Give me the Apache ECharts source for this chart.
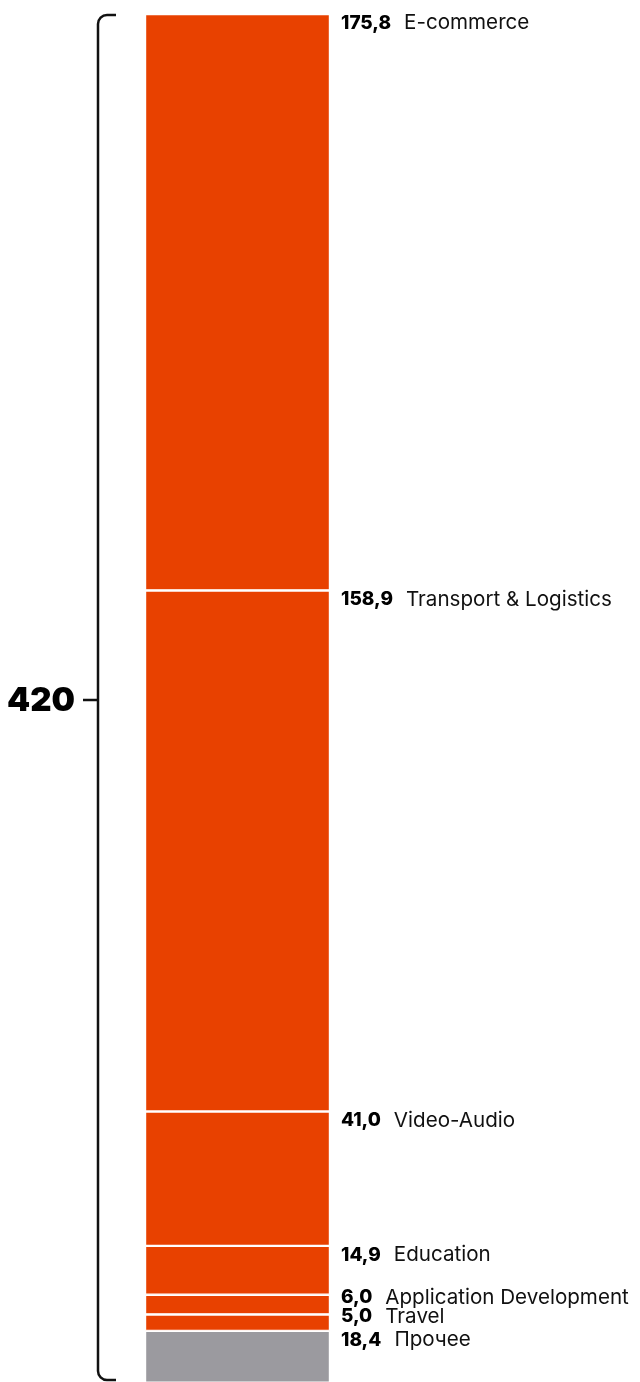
<!DOCTYPE html>
<html>
<head>
<meta charset="utf-8">
<script src="https://cdn.jsdelivr.net/npm/echarts@6/dist/echarts.min.js"></script>
<style>
  html, body { margin: 0; padding: 0; background: #ffffff; }
  #chart { width: 640px; height: 1382px; }
</style>
</head>
<body>
<div id="chart"></div>
<script>
// Segments from the bottom of the stack to the top
const categories = ['Прочее', 'Travel', 'Application Development', 'Education', 'Video-Audio', 'Transport & Logistics', 'E-commerce'];
const values = [18.4, 5.0, 6.0, 14.9, 41.0, 158.9, 175.8];
const kinds = ['other', 'main', 'main', 'main', 'main', 'main', 'main'];

const palette = { main: '#e84100', other: '#9b9a9f' };
// vertical nudge of each label below its segment's top edge (crowded ones sit higher)
const labelNudge = { 'Прочее': 9, 'Travel': 2, 'Application Development': 3 };

const total = values.reduce((a, b) => a + b, 0);
const fmt = v => v.toFixed(1).replace('.', ',');
const FONT = 'Inter, "Noto Sans", sans-serif';
// the stack runs a little past the lower page edge; the axis starts just above zero
const axisFloor = 2.8;

const chart = echarts.init(document.getElementById('chart'), null, { renderer: 'canvas' });

const series = categories.map((name, i) => ({
  type: 'bar',
  name: name,
  stack: 'total',
  data: [values[i]],
  barWidth: 185,
  clip: true,
  itemStyle: { color: palette[kinds[i]], borderColor: '#ffffff', borderWidth: 1.2 },
  emphasis: { disabled: true },
  label: {
    show: true,
    position: ['100%', 0],
    offset: [11, labelNudge[name] !== undefined ? labelNudge[name] : 9],
    align: 'left',
    verticalAlign: 'middle',
    formatter: () => '{v|' + fmt(values[i]) + '}{n|' + name + '}',
    rich: {
      v: { fontFamily: FONT, fontSize: 19, fontWeight: 800, color: '#000000' },
      n: { fontFamily: FONT, fontSize: 20.6, fontWeight: 400, color: '#111111', padding: [0, 0, 0, 13] }
    }
  }
}));

chart.setOption({
  animation: false,
  backgroundColor: '#ffffff',
  grid: { left: 145, width: 185, top: 14, bottom: 0, containLabel: false },
  xAxis: { type: 'category', data: ['total'], show: false },
  yAxis: { type: 'value', min: axisFloor, max: total, show: false },
  series: series
});

// Bracket spanning the whole stack with the total on its left
const yTop = chart.convertToPixel({ gridIndex: 0 }, [0, total])[1] + 1;
const yBot = Math.min(chart.convertToPixel({ gridIndex: 0 }, [0, 0])[1], chart.getHeight() - 2);
const yMid = Math.round((yTop + yBot) / 2) + 2;
const bx = 98, r = 9, ex = 116;
const ink = { stroke: '#111111', lineWidth: 2.5, fill: null };

chart.setOption({
  graphic: [
    { type: 'line', shape: { x1: bx + r, y1: yTop, x2: ex, y2: yTop }, style: ink },
    { type: 'arc', shape: { cx: bx + r, cy: yTop + r, r: r, startAngle: Math.PI, endAngle: Math.PI * 1.5, clockwise: true }, style: ink },
    { type: 'line', shape: { x1: bx, y1: yTop + r, x2: bx, y2: yBot - r }, style: ink },
    { type: 'arc', shape: { cx: bx + r, cy: yBot - r, r: r, startAngle: Math.PI * 0.5, endAngle: Math.PI, clockwise: true }, style: ink },
    { type: 'line', shape: { x1: bx + r, y1: yBot, x2: ex, y2: yBot }, style: ink },
    { type: 'line', shape: { x1: 83, y1: yMid, x2: bx, y2: yMid }, style: ink },
    {
      type: 'text',
      x: 75,
      y: yMid + 1,
      style: {
        text: String(Math.round(total)),
        font: '900 33px ' + FONT,
        fill: '#000000',
        align: 'right',
        verticalAlign: 'middle'
      }
    }
  ]
});
</script>
</body>
</html>
